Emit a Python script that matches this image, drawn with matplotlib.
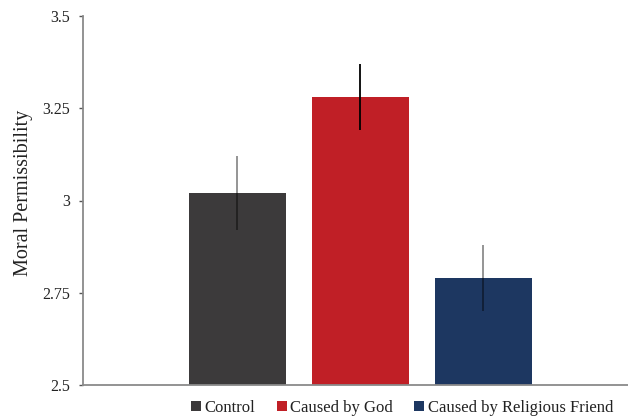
import matplotlib.pyplot as plt
import numpy as np

# moral permissibility ratings by condition
conditions = ["Control", "Caused by God", "Caused by Religious Friend"]
means = [3.02, 3.28, 2.79]
errors = [0.10, 0.09, 0.09]
colors = ["#3c3a3b", "#c01f26", "#1d3761"]
err_alpha = [0.45, 1.0, 0.45]
yticks = [2.5, 2.75, 3, 3.25, 3.5]
ytick_labels = ["2.5", "2.75", "3", "3.25", "3.5"]

plt.rcParams['font.family'] = ['Liberation Serif', 'DejaVu Serif']

fig = plt.figure(figsize=(6.28, 4.17), dpi=100)
ax = fig.add_axes([83 / 628, 1 - 385 / 417, 1 - 83 / 628, (385 - 16) / 417])

x = np.arange(len(conditions))
bars = ax.bar(x, means, width=0.79, color=colors, label=conditions, zorder=2)
for i in range(len(conditions)):
    ax.errorbar(x[i], means[i], yerr=errors[i], fmt="none", ecolor="black",
                elinewidth=1.3, capsize=0, alpha=err_alpha[i], zorder=3)

ax.set_ylim(2.5, 3.5)
ax.set_xlim(-1.256, 3.175)
ax.set_yticks(yticks)
ax.set_yticklabels(ytick_labels)
ax.set_xticks([])

for s in ["top", "right"]:
    ax.spines[s].set_visible(False)
for s in ["left", "bottom"]:
    ax.spines[s].set_color("#8a8a8a")
    ax.spines[s].set_linewidth(1.3)
ax.tick_params(axis="y", length=3, width=1, color="#555555", pad=6.5,
               labelsize=11.5, labelcolor="#222222")

ax.set_ylabel("Moral Permissibility", fontsize=14.5, color="#222222")
ax.yaxis.set_label_coords(-0.092, 0.52)

fig.legend(handles=bars, labels=conditions, loc="center", ncol=3,
           bbox_to_anchor=(402 / 628, 1 - 408 / 417), frameon=False,
           fontsize=12, handlelength=0.6, handleheight=0.6,
           handletextpad=0.2, columnspacing=1.3, borderpad=0,
           labelcolor="#222222")

fig.savefig("out.png", dpi=100)
